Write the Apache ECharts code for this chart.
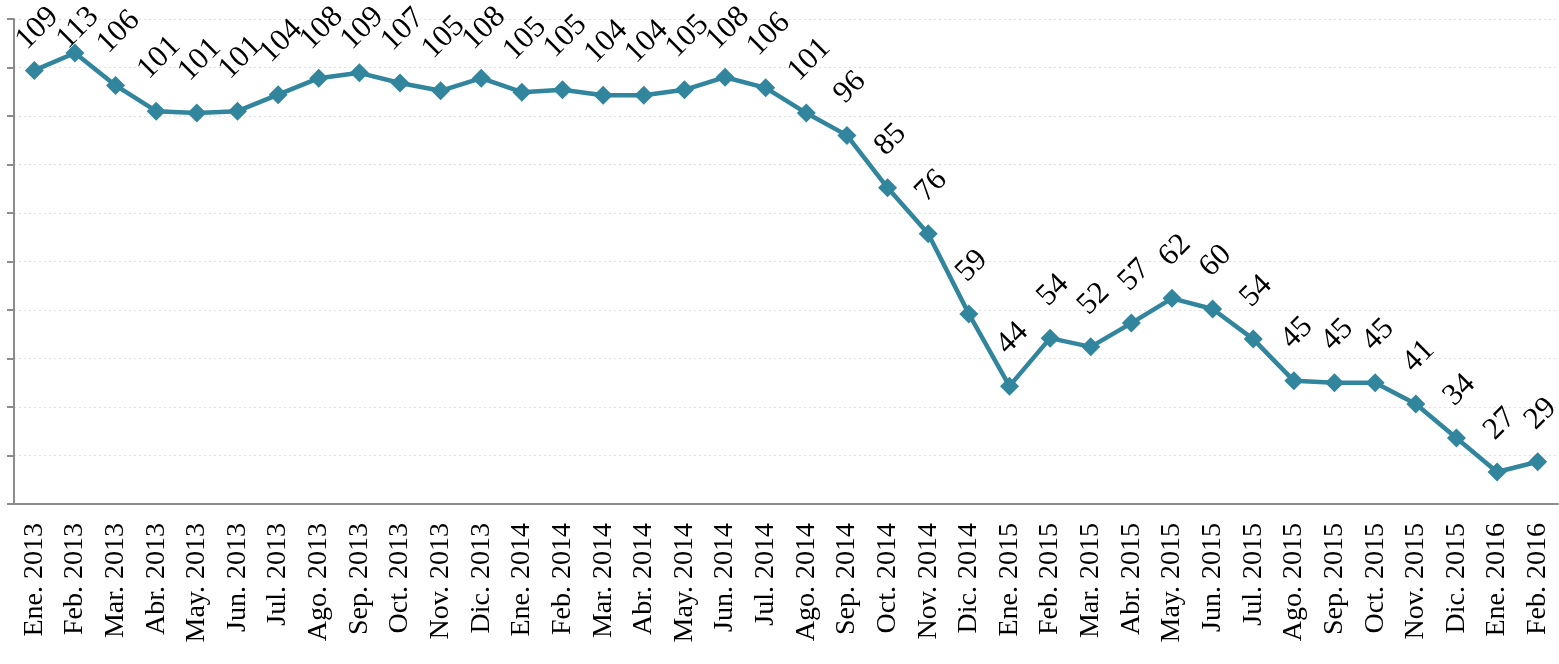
<!DOCTYPE html>
<html>
<head>
<meta charset="utf-8">
<script src="https://cdn.jsdelivr.net/npm/echarts@6/dist/echarts.min.js"></script>
<style>
  html, body { margin: 0; padding: 0; background: #fff; }
  #chart { width: 1559px; height: 664px; }
</style>
</head>
<body>
<div id="chart"></div>
<script>
// meses (eje x)
const months = [
  'Ene. 2013', 'Feb. 2013', 'Mar. 2013', 'Abr. 2013', 'May. 2013', 'Jun. 2013',
  'Jul. 2013', 'Ago. 2013', 'Sep. 2013', 'Oct. 2013', 'Nov. 2013', 'Dic. 2013',
  'Ene. 2014', 'Feb. 2014', 'Mar. 2014', 'Abr. 2014', 'May. 2014', 'Jun. 2014',
  'Jul. 2014', 'Ago. 2014', 'Sep. 2014', 'Oct. 2014', 'Nov. 2014', 'Dic. 2014',
  'Ene. 2015', 'Feb. 2015', 'Mar. 2015', 'Abr. 2015', 'May. 2015', 'Jun. 2015',
  'Jul. 2015', 'Ago. 2015', 'Sep. 2015', 'Oct. 2015', 'Nov. 2015', 'Dic. 2015',
  'Ene. 2016', 'Feb. 2016'
];

// valores
const values = [
  109.4, 113, 106.3, 101, 100.6, 101,
  104.4, 107.8, 108.9, 106.8, 105.2, 107.8,
  104.9, 105.4, 104.3, 104.3, 105.4, 108,
  105.8, 100.6, 96, 85.2, 75.7, 59.2,
  44.3, 54.2, 52.4, 57.3, 62.4, 60.2,
  54, 45.4, 45, 45, 40.6, 33.6,
  26.6, 28.7
];

// escala del eje y (sin etiquetas)
const yMin = 20;
const yMax = 120;
const yStep = 10;

const serif = 'Liberation Serif';

const chart = echarts.init(document.getElementById('chart'));
chart.setOption({
  animation: false,
  grid: { left: 14, right: 1, top: 19, bottom: 160, containLabel: false },
  textStyle: { fontFamily: serif },
  xAxis: {
    type: 'category',
    data: months,
    boundaryGap: true,
    axisLine: { lineStyle: { color: '#8c8c8c', width: 2 } },
    axisTick: { show: false },
    axisLabel: {
      rotate: 90,
      interval: 0,
      margin: 19,
      color: '#000',
      fontSize: 28,
      fontFamily: serif
    }
  },
  yAxis: {
    type: 'value',
    min: yMin,
    max: yMax,
    interval: yStep,
    axisLine: { show: true, lineStyle: { color: '#8c8c8c', width: 2 } },
    axisTick: { show: true, length: 7, lineStyle: { color: '#8c8c8c', width: 2 } },
    axisLabel: { show: false },
    splitLine: { lineStyle: { color: '#e0e0e0', type: [2, 3], width: 1 } }
  },
  series: [{
    type: 'line',
    data: values,
    symbol: 'diamond',
    symbolSize: 19,
    lineStyle: { color: '#31859c', width: 4.5 },
    itemStyle: { color: '#31859c' },
    label: {
      show: true,
      position: 'top',
      rotate: 45,
      align: 'center',
      verticalAlign: 'middle',
      formatter: p => '{v|' + Math.round(p.value) + '}',
      rich: {
        v: { color: '#000', fontSize: 31, fontFamily: serif }
      }
    },
    labelLayout: function (params) {
      // etiqueta centrada sobre el punto, dentro del area del grafico
      const s = params.rect;
      const r = params.labelRect;
      const cx = s.x + s.width / 2 + 3;
      const cy = s.y + s.height / 2;
      let y = cy - 26 - r.height / 2;
      if (y - r.height / 2 < 1) y = 1 + r.height / 2;
      return { x: cx, y: y };
    }
  }]
});
</script>
</body>
</html>
